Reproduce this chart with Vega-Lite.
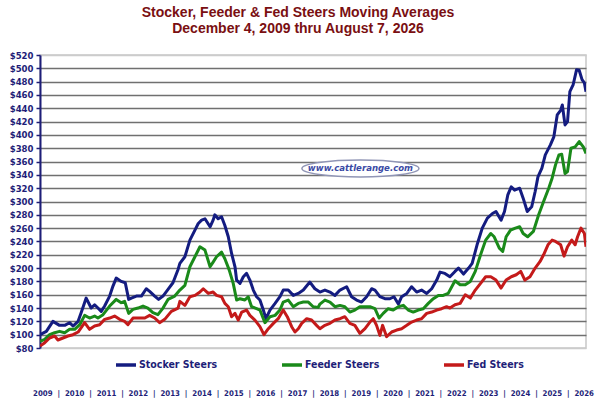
{
  "$schema": "https://vega.github.io/schema/vega-lite/v6.json",
  "description": "Stocker, feeder and fed steer moving averages, Dec 2009 to Aug 2026.",
  "width": 546,
  "height": 293,
  "autosize": {"type": "none"},
  "padding": {"left": 40, "top": 55, "right": 15, "bottom": 52},
  "background": "white",
  "config": {
    "view": {"stroke": "#c8c8c8", "strokeWidth": 1.5}
  },
  "title": {
    "text": ["Stocker, Feeder & Fed Steers Moving Averages", "December 4, 2009 thru August 7, 2026"],
    "anchor": "middle",
    "dx": -15,
    "offset": 14,
    "font": "Liberation Sans",
    "fontWeight": "bold",
    "fontSize": 14,
    "lineHeight": 16,
    "color": "#7a0f12"
  },
  "encoding": {
    "x": {
      "field": "date",
      "type": "temporal",
      "scale": {"domain": [{"year": 2009, "month": 12, "date": 4, "utc": true}, {"year": 2026, "month": 8, "date": 7, "utc": true}]},
      "axis": {
        "title": "2009 \u00a0|\u00a0 2010 \u00a0|\u00a0 2011 \u00a0|\u00a0 2012 \u00a0|\u00a0 2013 \u00a0|\u00a0 2014 \u00a0|\u00a0 2015 \u00a0|\u00a0 2016 \u00a0|\u00a0 2017 \u00a0|\u00a0 2018 \u00a0|\u00a0 2019 \u00a0|\u00a0 2020 \u00a0|\u00a0 2021 \u00a0|\u00a0 2022 \u00a0|\u00a0 2023 \u00a0|\u00a0 2024 \u00a0|\u00a0 2025 \u00a0|\u00a0 2026",
        "labels": false,
        "ticks": false,
        "domain": false,
        "grid": false,
        "titleFont": "DejaVu Sans Condensed",
        "titleFontWeight": "bold",
        "titleFontSize": 7.8,
        "titleColor": "#1e1e78",
        "titleY": 45,
        "titleBaseline": "middle"
      }
    },
    "y": {
      "field": "price",
      "type": "quantitative",
      "scale": {"domain": [80, 520], "nice": false, "zero": false},
      "axis": {
        "title": null,
        "values": [80, 100, 120, 140, 160, 180, 200, 220, 240, 260, 280, 300, 320, 340, 360, 380, 400, 420, 440, 460, 480, 500, 520],
        "labelExpr": "'$' + datum.value",
        "labelFont": "DejaVu Sans Condensed",
        "labelFontWeight": "bold",
        "labelFontSize": 9.5,
        "labelColor": "#1e1e78",
        "labelPadding": 3,
        "domainColor": "#1e1e78",
        "domainWidth": 2,
        "tickColor": "#1e1e78",
        "tickSize": 4,
        "tickWidth": 1.5,
        "gridColor": {"condition": {"test": "datum.value === 80 || datum.value === 520", "value": "#cccccc"}, "value": "#707070"},
        "gridWidth": 1.5
      }
    }
  },
  "layer": [
    {
      "data": {"values": [{"date": "2019-09-17", "price": 349.6, "site": "www.cattlerange.com"}]},
      "layer": [
        {
          "mark": {"type": "point", "shape": "M -1 0 A 1 0.145 0 1 1 1 0 A 1 0.145 0 1 1 -1 0 Z", "size": 13689, "filled": true, "fill": "white", "stroke": "#9095b5", "strokeWidth": 1.5, "opacity": 1}
        },
        {
          "mark": {"type": "text", "font": "DejaVu Sans Condensed", "fontStyle": "italic", "fontWeight": "bold", "fontSize": 9.5, "color": "#3a4aa5"},
          "encoding": {"text": {"field": "site"}}
        }
      ]
    },
    {
      "data": {"values": [
        {"series": "Stocker Steers", "date": "2009-12-04", "price": 100},
        {"series": "Stocker Steers", "date": "2010-02-13", "price": 105},
        {"series": "Stocker Steers", "date": "2010-04-27", "price": 120},
        {"series": "Stocker Steers", "date": "2010-07-10", "price": 114},
        {"series": "Stocker Steers", "date": "2010-09-05", "price": 114},
        {"series": "Stocker Steers", "date": "2010-10-30", "price": 118},
        {"series": "Stocker Steers", "date": "2010-12-07", "price": 113},
        {"series": "Stocker Steers", "date": "2011-02-02", "price": 120},
        {"series": "Stocker Steers", "date": "2011-03-08", "price": 133},
        {"series": "Stocker Steers", "date": "2011-05-03", "price": 155},
        {"series": "Stocker Steers", "date": "2011-06-28", "price": 140},
        {"series": "Stocker Steers", "date": "2011-08-05", "price": 145},
        {"series": "Stocker Steers", "date": "2011-09-11", "price": 140},
        {"series": "Stocker Steers", "date": "2011-10-18", "price": 135},
        {"series": "Stocker Steers", "date": "2011-11-25", "price": 143},
        {"series": "Stocker Steers", "date": "2012-01-20", "price": 158},
        {"series": "Stocker Steers", "date": "2012-02-26", "price": 173},
        {"series": "Stocker Steers", "date": "2012-04-02", "price": 185},
        {"series": "Stocker Steers", "date": "2012-05-28", "price": 180},
        {"series": "Stocker Steers", "date": "2012-07-12", "price": 178},
        {"series": "Stocker Steers", "date": "2012-08-19", "price": 153},
        {"series": "Stocker Steers", "date": "2012-09-18", "price": 155},
        {"series": "Stocker Steers", "date": "2012-11-13", "price": 158},
        {"series": "Stocker Steers", "date": "2013-01-08", "price": 158},
        {"series": "Stocker Steers", "date": "2013-03-03", "price": 169},
        {"series": "Stocker Steers", "date": "2013-04-10", "price": 165},
        {"series": "Stocker Steers", "date": "2013-06-05", "price": 158},
        {"series": "Stocker Steers", "date": "2013-07-19", "price": 153},
        {"series": "Stocker Steers", "date": "2013-09-06", "price": 158},
        {"series": "Stocker Steers", "date": "2013-11-01", "price": 168},
        {"series": "Stocker Steers", "date": "2013-12-26", "price": 178},
        {"series": "Stocker Steers", "date": "2014-02-21", "price": 198},
        {"series": "Stocker Steers", "date": "2014-03-13", "price": 207},
        {"series": "Stocker Steers", "date": "2014-05-08", "price": 217},
        {"series": "Stocker Steers", "date": "2014-07-03", "price": 242},
        {"series": "Stocker Steers", "date": "2014-08-28", "price": 257},
        {"series": "Stocker Steers", "date": "2014-10-04", "price": 267},
        {"series": "Stocker Steers", "date": "2014-11-11", "price": 272},
        {"series": "Stocker Steers", "date": "2014-12-18", "price": 274},
        {"series": "Stocker Steers", "date": "2015-02-13", "price": 262},
        {"series": "Stocker Steers", "date": "2015-03-19", "price": 272},
        {"series": "Stocker Steers", "date": "2015-04-07", "price": 280},
        {"series": "Stocker Steers", "date": "2015-05-14", "price": 274},
        {"series": "Stocker Steers", "date": "2015-06-21", "price": 277},
        {"series": "Stocker Steers", "date": "2015-07-28", "price": 264},
        {"series": "Stocker Steers", "date": "2015-09-04", "price": 247},
        {"series": "Stocker Steers", "date": "2015-10-11", "price": 222},
        {"series": "Stocker Steers", "date": "2015-11-18", "price": 202},
        {"series": "Stocker Steers", "date": "2015-12-06", "price": 182},
        {"series": "Stocker Steers", "date": "2016-01-13", "price": 177},
        {"series": "Stocker Steers", "date": "2016-02-19", "price": 187},
        {"series": "Stocker Steers", "date": "2016-03-26", "price": 192},
        {"series": "Stocker Steers", "date": "2016-05-02", "price": 182},
        {"series": "Stocker Steers", "date": "2016-06-09", "price": 167},
        {"series": "Stocker Steers", "date": "2016-07-16", "price": 157},
        {"series": "Stocker Steers", "date": "2016-08-22", "price": 152},
        {"series": "Stocker Steers", "date": "2016-09-29", "price": 137},
        {"series": "Stocker Steers", "date": "2016-10-28", "price": 124},
        {"series": "Stocker Steers", "date": "2016-12-12", "price": 137},
        {"series": "Stocker Steers", "date": "2017-02-07", "price": 147},
        {"series": "Stocker Steers", "date": "2017-04-02", "price": 157},
        {"series": "Stocker Steers", "date": "2017-05-09", "price": 167},
        {"series": "Stocker Steers", "date": "2017-07-04", "price": 167},
        {"series": "Stocker Steers", "date": "2017-08-29", "price": 159},
        {"series": "Stocker Steers", "date": "2017-10-24", "price": 162},
        {"series": "Stocker Steers", "date": "2017-12-19", "price": 167},
        {"series": "Stocker Steers", "date": "2018-03-02", "price": 179},
        {"series": "Stocker Steers", "date": "2018-04-27", "price": 169},
        {"series": "Stocker Steers", "date": "2018-06-22", "price": 164},
        {"series": "Stocker Steers", "date": "2018-08-17", "price": 167},
        {"series": "Stocker Steers", "date": "2018-10-12", "price": 164},
        {"series": "Stocker Steers", "date": "2018-12-07", "price": 159},
        {"series": "Stocker Steers", "date": "2019-02-01", "price": 167},
        {"series": "Stocker Steers", "date": "2019-04-16", "price": 172},
        {"series": "Stocker Steers", "date": "2019-06-10", "price": 157},
        {"series": "Stocker Steers", "date": "2019-08-05", "price": 152},
        {"series": "Stocker Steers", "date": "2019-09-30", "price": 149},
        {"series": "Stocker Steers", "date": "2019-11-25", "price": 157},
        {"series": "Stocker Steers", "date": "2020-01-20", "price": 169},
        {"series": "Stocker Steers", "date": "2020-02-26", "price": 167},
        {"series": "Stocker Steers", "date": "2020-04-21", "price": 157},
        {"series": "Stocker Steers", "date": "2020-06-16", "price": 154},
        {"series": "Stocker Steers", "date": "2020-08-11", "price": 154},
        {"series": "Stocker Steers", "date": "2020-09-25", "price": 157},
        {"series": "Stocker Steers", "date": "2020-11-13", "price": 146},
        {"series": "Stocker Steers", "date": "2020-12-20", "price": 157},
        {"series": "Stocker Steers", "date": "2021-02-15", "price": 162},
        {"series": "Stocker Steers", "date": "2021-04-10", "price": 172},
        {"series": "Stocker Steers", "date": "2021-06-05", "price": 164},
        {"series": "Stocker Steers", "date": "2021-07-30", "price": 167},
        {"series": "Stocker Steers", "date": "2021-09-25", "price": 162},
        {"series": "Stocker Steers", "date": "2021-11-20", "price": 169},
        {"series": "Stocker Steers", "date": "2022-01-15", "price": 182},
        {"series": "Stocker Steers", "date": "2022-02-21", "price": 194},
        {"series": "Stocker Steers", "date": "2022-04-16", "price": 192},
        {"series": "Stocker Steers", "date": "2022-06-11", "price": 187},
        {"series": "Stocker Steers", "date": "2022-08-07", "price": 195},
        {"series": "Stocker Steers", "date": "2022-09-14", "price": 200},
        {"series": "Stocker Steers", "date": "2022-11-10", "price": 191},
        {"series": "Stocker Steers", "date": "2023-01-06", "price": 200},
        {"series": "Stocker Steers", "date": "2023-02-14", "price": 207},
        {"series": "Stocker Steers", "date": "2023-04-10", "price": 235},
        {"series": "Stocker Steers", "date": "2023-06-07", "price": 260},
        {"series": "Stocker Steers", "date": "2023-08-03", "price": 275},
        {"series": "Stocker Steers", "date": "2023-09-29", "price": 282},
        {"series": "Stocker Steers", "date": "2023-11-07", "price": 285},
        {"series": "Stocker Steers", "date": "2024-01-03", "price": 272},
        {"series": "Stocker Steers", "date": "2024-02-10", "price": 285},
        {"series": "Stocker Steers", "date": "2024-03-18", "price": 310},
        {"series": "Stocker Steers", "date": "2024-04-25", "price": 322},
        {"series": "Stocker Steers", "date": "2024-06-02", "price": 317},
        {"series": "Stocker Steers", "date": "2024-07-28", "price": 320},
        {"series": "Stocker Steers", "date": "2024-09-05", "price": 305},
        {"series": "Stocker Steers", "date": "2024-10-21", "price": 285},
        {"series": "Stocker Steers", "date": "2024-12-09", "price": 292},
        {"series": "Stocker Steers", "date": "2025-01-17", "price": 315},
        {"series": "Stocker Steers", "date": "2025-02-17", "price": 337},
        {"series": "Stocker Steers", "date": "2025-04-02", "price": 350},
        {"series": "Stocker Steers", "date": "2025-05-10", "price": 370},
        {"series": "Stocker Steers", "date": "2025-07-06", "price": 385},
        {"series": "Stocker Steers", "date": "2025-08-13", "price": 397},
        {"series": "Stocker Steers", "date": "2025-09-20", "price": 430},
        {"series": "Stocker Steers", "date": "2025-10-28", "price": 437},
        {"series": "Stocker Steers", "date": "2025-11-16", "price": 445},
        {"series": "Stocker Steers", "date": "2025-12-16", "price": 415},
        {"series": "Stocker Steers", "date": "2026-01-13", "price": 420},
        {"series": "Stocker Steers", "date": "2026-02-08", "price": 465},
        {"series": "Stocker Steers", "date": "2026-03-16", "price": 475},
        {"series": "Stocker Steers", "date": "2026-04-24", "price": 498},
        {"series": "Stocker Steers", "date": "2026-05-23", "price": 497},
        {"series": "Stocker Steers", "date": "2026-06-24", "price": 483},
        {"series": "Stocker Steers", "date": "2026-07-20", "price": 478},
        {"series": "Stocker Steers", "date": "2026-08-07", "price": 465},
        {"series": "Feeder Steers", "date": "2009-12-04", "price": 90},
        {"series": "Feeder Steers", "date": "2010-01-26", "price": 93},
        {"series": "Feeder Steers", "date": "2010-03-21", "price": 100},
        {"series": "Feeder Steers", "date": "2010-05-16", "price": 103},
        {"series": "Feeder Steers", "date": "2010-07-10", "price": 105},
        {"series": "Feeder Steers", "date": "2010-09-05", "price": 103},
        {"series": "Feeder Steers", "date": "2010-10-30", "price": 108},
        {"series": "Feeder Steers", "date": "2010-12-26", "price": 108},
        {"series": "Feeder Steers", "date": "2011-02-20", "price": 115},
        {"series": "Feeder Steers", "date": "2011-04-16", "price": 129},
        {"series": "Feeder Steers", "date": "2011-06-10", "price": 125},
        {"series": "Feeder Steers", "date": "2011-08-05", "price": 128},
        {"series": "Feeder Steers", "date": "2011-09-11", "price": 125},
        {"series": "Feeder Steers", "date": "2011-11-07", "price": 130},
        {"series": "Feeder Steers", "date": "2012-01-20", "price": 143},
        {"series": "Feeder Steers", "date": "2012-04-02", "price": 153},
        {"series": "Feeder Steers", "date": "2012-05-28", "price": 148},
        {"series": "Feeder Steers", "date": "2012-07-05", "price": 150},
        {"series": "Feeder Steers", "date": "2012-08-19", "price": 132},
        {"series": "Feeder Steers", "date": "2012-10-06", "price": 138},
        {"series": "Feeder Steers", "date": "2012-12-01", "price": 140},
        {"series": "Feeder Steers", "date": "2013-01-26", "price": 143},
        {"series": "Feeder Steers", "date": "2013-03-21", "price": 140},
        {"series": "Feeder Steers", "date": "2013-05-16", "price": 133},
        {"series": "Feeder Steers", "date": "2013-07-11", "price": 130},
        {"series": "Feeder Steers", "date": "2013-09-06", "price": 140},
        {"series": "Feeder Steers", "date": "2013-11-01", "price": 153},
        {"series": "Feeder Steers", "date": "2014-01-15", "price": 158},
        {"series": "Feeder Steers", "date": "2014-03-13", "price": 167},
        {"series": "Feeder Steers", "date": "2014-05-08", "price": 174},
        {"series": "Feeder Steers", "date": "2014-07-03", "price": 202},
        {"series": "Feeder Steers", "date": "2014-08-28", "price": 217},
        {"series": "Feeder Steers", "date": "2014-10-23", "price": 232},
        {"series": "Feeder Steers", "date": "2014-12-18", "price": 227},
        {"series": "Feeder Steers", "date": "2015-02-13", "price": 202},
        {"series": "Feeder Steers", "date": "2015-03-19", "price": 209},
        {"series": "Feeder Steers", "date": "2015-04-26", "price": 217},
        {"series": "Feeder Steers", "date": "2015-06-21", "price": 224},
        {"series": "Feeder Steers", "date": "2015-07-28", "price": 214},
        {"series": "Feeder Steers", "date": "2015-09-15", "price": 197},
        {"series": "Feeder Steers", "date": "2015-10-29", "price": 177},
        {"series": "Feeder Steers", "date": "2015-12-06", "price": 152},
        {"series": "Feeder Steers", "date": "2016-01-13", "price": 154},
        {"series": "Feeder Steers", "date": "2016-03-07", "price": 152},
        {"series": "Feeder Steers", "date": "2016-04-13", "price": 157},
        {"series": "Feeder Steers", "date": "2016-05-21", "price": 142},
        {"series": "Feeder Steers", "date": "2016-07-16", "price": 139},
        {"series": "Feeder Steers", "date": "2016-08-22", "price": 137},
        {"series": "Feeder Steers", "date": "2016-10-17", "price": 118},
        {"series": "Feeder Steers", "date": "2016-12-12", "price": 127},
        {"series": "Feeder Steers", "date": "2017-02-07", "price": 129},
        {"series": "Feeder Steers", "date": "2017-04-02", "price": 137},
        {"series": "Feeder Steers", "date": "2017-05-09", "price": 149},
        {"series": "Feeder Steers", "date": "2017-07-04", "price": 152},
        {"series": "Feeder Steers", "date": "2017-08-29", "price": 142},
        {"series": "Feeder Steers", "date": "2017-10-24", "price": 147},
        {"series": "Feeder Steers", "date": "2017-12-19", "price": 149},
        {"series": "Feeder Steers", "date": "2018-02-13", "price": 149},
        {"series": "Feeder Steers", "date": "2018-04-08", "price": 142},
        {"series": "Feeder Steers", "date": "2018-06-03", "price": 141},
        {"series": "Feeder Steers", "date": "2018-06-22", "price": 146},
        {"series": "Feeder Steers", "date": "2018-08-17", "price": 152},
        {"series": "Feeder Steers", "date": "2018-10-12", "price": 149},
        {"series": "Feeder Steers", "date": "2018-12-07", "price": 142},
        {"series": "Feeder Steers", "date": "2019-02-01", "price": 144},
        {"series": "Feeder Steers", "date": "2019-03-27", "price": 142},
        {"series": "Feeder Steers", "date": "2019-05-22", "price": 134},
        {"series": "Feeder Steers", "date": "2019-07-17", "price": 137},
        {"series": "Feeder Steers", "date": "2019-09-11", "price": 142},
        {"series": "Feeder Steers", "date": "2019-11-07", "price": 142},
        {"series": "Feeder Steers", "date": "2020-01-01", "price": 142},
        {"series": "Feeder Steers", "date": "2020-02-26", "price": 139},
        {"series": "Feeder Steers", "date": "2020-04-13", "price": 125},
        {"series": "Feeder Steers", "date": "2020-05-28", "price": 132},
        {"series": "Feeder Steers", "date": "2020-07-23", "price": 139},
        {"series": "Feeder Steers", "date": "2020-09-17", "price": 137},
        {"series": "Feeder Steers", "date": "2020-11-13", "price": 142},
        {"series": "Feeder Steers", "date": "2021-01-08", "price": 144},
        {"series": "Feeder Steers", "date": "2021-03-03", "price": 137},
        {"series": "Feeder Steers", "date": "2021-04-28", "price": 134},
        {"series": "Feeder Steers", "date": "2021-06-23", "price": 137},
        {"series": "Feeder Steers", "date": "2021-08-18", "price": 139},
        {"series": "Feeder Steers", "date": "2021-10-13", "price": 147},
        {"series": "Feeder Steers", "date": "2021-12-08", "price": 154},
        {"series": "Feeder Steers", "date": "2022-02-02", "price": 159},
        {"series": "Feeder Steers", "date": "2022-03-28", "price": 159},
        {"series": "Feeder Steers", "date": "2022-05-23", "price": 162},
        {"series": "Feeder Steers", "date": "2022-08-07", "price": 181},
        {"series": "Feeder Steers", "date": "2022-10-03", "price": 175},
        {"series": "Feeder Steers", "date": "2022-11-29", "price": 175},
        {"series": "Feeder Steers", "date": "2023-01-25", "price": 180},
        {"series": "Feeder Steers", "date": "2023-03-21", "price": 195},
        {"series": "Feeder Steers", "date": "2023-05-19", "price": 220},
        {"series": "Feeder Steers", "date": "2023-07-15", "price": 242},
        {"series": "Feeder Steers", "date": "2023-09-10", "price": 252},
        {"series": "Feeder Steers", "date": "2023-10-18", "price": 247},
        {"series": "Feeder Steers", "date": "2023-12-14", "price": 230},
        {"series": "Feeder Steers", "date": "2024-01-21", "price": 225},
        {"series": "Feeder Steers", "date": "2024-02-28", "price": 247},
        {"series": "Feeder Steers", "date": "2024-04-17", "price": 257},
        {"series": "Feeder Steers", "date": "2024-06-10", "price": 260},
        {"series": "Feeder Steers", "date": "2024-07-28", "price": 262},
        {"series": "Feeder Steers", "date": "2024-09-05", "price": 252},
        {"series": "Feeder Steers", "date": "2024-10-25", "price": 247},
        {"series": "Feeder Steers", "date": "2024-12-28", "price": 255},
        {"series": "Feeder Steers", "date": "2025-02-25", "price": 280},
        {"series": "Feeder Steers", "date": "2025-04-21", "price": 300},
        {"series": "Feeder Steers", "date": "2025-06-17", "price": 320},
        {"series": "Feeder Steers", "date": "2025-07-25", "price": 335},
        {"series": "Feeder Steers", "date": "2025-09-01", "price": 355},
        {"series": "Feeder Steers", "date": "2025-10-09", "price": 370},
        {"series": "Feeder Steers", "date": "2025-11-09", "price": 371},
        {"series": "Feeder Steers", "date": "2025-12-16", "price": 342},
        {"series": "Feeder Steers", "date": "2026-01-13", "price": 345},
        {"series": "Feeder Steers", "date": "2026-02-20", "price": 380},
        {"series": "Feeder Steers", "date": "2026-04-08", "price": 382},
        {"series": "Feeder Steers", "date": "2026-05-23", "price": 390},
        {"series": "Feeder Steers", "date": "2026-07-08", "price": 382},
        {"series": "Feeder Steers", "date": "2026-08-07", "price": 372},
        {"series": "Fed Steers", "date": "2009-12-04", "price": 83},
        {"series": "Fed Steers", "date": "2010-01-26", "price": 88},
        {"series": "Fed Steers", "date": "2010-03-21", "price": 95},
        {"series": "Fed Steers", "date": "2010-05-16", "price": 98},
        {"series": "Fed Steers", "date": "2010-06-22", "price": 92},
        {"series": "Fed Steers", "date": "2010-08-17", "price": 95},
        {"series": "Fed Steers", "date": "2010-10-12", "price": 98},
        {"series": "Fed Steers", "date": "2010-12-07", "price": 100},
        {"series": "Fed Steers", "date": "2011-02-02", "price": 104},
        {"series": "Fed Steers", "date": "2011-04-16", "price": 118},
        {"series": "Fed Steers", "date": "2011-06-10", "price": 108},
        {"series": "Fed Steers", "date": "2011-08-05", "price": 113},
        {"series": "Fed Steers", "date": "2011-09-30", "price": 115},
        {"series": "Fed Steers", "date": "2011-11-25", "price": 123},
        {"series": "Fed Steers", "date": "2012-01-20", "price": 125},
        {"series": "Fed Steers", "date": "2012-03-15", "price": 128},
        {"series": "Fed Steers", "date": "2012-05-10", "price": 123},
        {"series": "Fed Steers", "date": "2012-07-05", "price": 120},
        {"series": "Fed Steers", "date": "2012-08-11", "price": 115},
        {"series": "Fed Steers", "date": "2012-10-06", "price": 125},
        {"series": "Fed Steers", "date": "2012-12-01", "price": 125},
        {"series": "Fed Steers", "date": "2013-02-15", "price": 125},
        {"series": "Fed Steers", "date": "2013-04-10", "price": 129},
        {"series": "Fed Steers", "date": "2013-06-05", "price": 125},
        {"series": "Fed Steers", "date": "2013-07-30", "price": 118},
        {"series": "Fed Steers", "date": "2013-09-25", "price": 123},
        {"series": "Fed Steers", "date": "2013-12-08", "price": 135},
        {"series": "Fed Steers", "date": "2014-02-21", "price": 140},
        {"series": "Fed Steers", "date": "2014-03-13", "price": 150},
        {"series": "Fed Steers", "date": "2014-05-08", "price": 144},
        {"series": "Fed Steers", "date": "2014-07-03", "price": 157},
        {"series": "Fed Steers", "date": "2014-08-28", "price": 159},
        {"series": "Fed Steers", "date": "2014-10-23", "price": 164},
        {"series": "Fed Steers", "date": "2014-11-29", "price": 169},
        {"series": "Fed Steers", "date": "2015-01-24", "price": 162},
        {"series": "Fed Steers", "date": "2015-03-19", "price": 164},
        {"series": "Fed Steers", "date": "2015-04-26", "price": 159},
        {"series": "Fed Steers", "date": "2015-06-21", "price": 157},
        {"series": "Fed Steers", "date": "2015-07-28", "price": 147},
        {"series": "Fed Steers", "date": "2015-09-04", "price": 142},
        {"series": "Fed Steers", "date": "2015-10-11", "price": 127},
        {"series": "Fed Steers", "date": "2015-11-18", "price": 132},
        {"series": "Fed Steers", "date": "2015-12-24", "price": 122},
        {"series": "Fed Steers", "date": "2016-02-01", "price": 134},
        {"series": "Fed Steers", "date": "2016-03-26", "price": 137},
        {"series": "Fed Steers", "date": "2016-05-02", "price": 129},
        {"series": "Fed Steers", "date": "2016-06-27", "price": 122},
        {"series": "Fed Steers", "date": "2016-08-22", "price": 112},
        {"series": "Fed Steers", "date": "2016-10-06", "price": 100},
        {"series": "Fed Steers", "date": "2016-11-24", "price": 109},
        {"series": "Fed Steers", "date": "2017-01-19", "price": 117},
        {"series": "Fed Steers", "date": "2017-03-14", "price": 124},
        {"series": "Fed Steers", "date": "2017-05-09", "price": 137},
        {"series": "Fed Steers", "date": "2017-06-23", "price": 127},
        {"series": "Fed Steers", "date": "2017-08-11", "price": 112},
        {"series": "Fed Steers", "date": "2017-09-17", "price": 104},
        {"series": "Fed Steers", "date": "2017-10-24", "price": 109},
        {"series": "Fed Steers", "date": "2017-12-01", "price": 117},
        {"series": "Fed Steers", "date": "2018-01-26", "price": 124},
        {"series": "Fed Steers", "date": "2018-03-21", "price": 122},
        {"series": "Fed Steers", "date": "2018-05-16", "price": 114},
        {"series": "Fed Steers", "date": "2018-06-22", "price": 109},
        {"series": "Fed Steers", "date": "2018-08-17", "price": 114},
        {"series": "Fed Steers", "date": "2018-10-12", "price": 117},
        {"series": "Fed Steers", "date": "2018-12-07", "price": 122},
        {"series": "Fed Steers", "date": "2019-02-01", "price": 124},
        {"series": "Fed Steers", "date": "2019-03-27", "price": 127},
        {"series": "Fed Steers", "date": "2019-05-22", "price": 117},
        {"series": "Fed Steers", "date": "2019-07-17", "price": 114},
        {"series": "Fed Steers", "date": "2019-09-11", "price": 102},
        {"series": "Fed Steers", "date": "2019-11-07", "price": 109},
        {"series": "Fed Steers", "date": "2020-01-01", "price": 119},
        {"series": "Fed Steers", "date": "2020-02-07", "price": 124},
        {"series": "Fed Steers", "date": "2020-03-15", "price": 114},
        {"series": "Fed Steers", "date": "2020-04-21", "price": 99},
        {"series": "Fed Steers", "date": "2020-05-21", "price": 114},
        {"series": "Fed Steers", "date": "2020-07-05", "price": 97},
        {"series": "Fed Steers", "date": "2020-08-30", "price": 104},
        {"series": "Fed Steers", "date": "2020-10-25", "price": 107},
        {"series": "Fed Steers", "date": "2020-12-20", "price": 109},
        {"series": "Fed Steers", "date": "2021-02-15", "price": 114},
        {"series": "Fed Steers", "date": "2021-04-10", "price": 119},
        {"series": "Fed Steers", "date": "2021-06-05", "price": 122},
        {"series": "Fed Steers", "date": "2021-07-30", "price": 124},
        {"series": "Fed Steers", "date": "2021-09-25", "price": 132},
        {"series": "Fed Steers", "date": "2021-11-20", "price": 134},
        {"series": "Fed Steers", "date": "2022-01-15", "price": 137},
        {"series": "Fed Steers", "date": "2022-03-10", "price": 139},
        {"series": "Fed Steers", "date": "2022-05-05", "price": 142},
        {"series": "Fed Steers", "date": "2022-06-11", "price": 140},
        {"series": "Fed Steers", "date": "2022-08-07", "price": 145},
        {"series": "Fed Steers", "date": "2022-10-03", "price": 147},
        {"series": "Fed Steers", "date": "2022-11-29", "price": 160},
        {"series": "Fed Steers", "date": "2023-01-25", "price": 155},
        {"series": "Fed Steers", "date": "2023-03-21", "price": 167},
        {"series": "Fed Steers", "date": "2023-05-19", "price": 177},
        {"series": "Fed Steers", "date": "2023-07-15", "price": 187},
        {"series": "Fed Steers", "date": "2023-09-10", "price": 187},
        {"series": "Fed Steers", "date": "2023-11-07", "price": 182},
        {"series": "Fed Steers", "date": "2024-01-03", "price": 170},
        {"series": "Fed Steers", "date": "2024-02-28", "price": 182},
        {"series": "Fed Steers", "date": "2024-04-25", "price": 187},
        {"series": "Fed Steers", "date": "2024-06-20", "price": 190},
        {"series": "Fed Steers", "date": "2024-08-09", "price": 195},
        {"series": "Fed Steers", "date": "2024-09-24", "price": 182},
        {"series": "Fed Steers", "date": "2024-11-20", "price": 187},
        {"series": "Fed Steers", "date": "2025-01-17", "price": 200},
        {"series": "Fed Steers", "date": "2025-03-13", "price": 210},
        {"series": "Fed Steers", "date": "2025-04-21", "price": 220},
        {"series": "Fed Steers", "date": "2025-06-09", "price": 235},
        {"series": "Fed Steers", "date": "2025-07-25", "price": 242},
        {"series": "Fed Steers", "date": "2025-09-01", "price": 240},
        {"series": "Fed Steers", "date": "2025-10-28", "price": 235},
        {"series": "Fed Steers", "date": "2025-12-05", "price": 218},
        {"series": "Fed Steers", "date": "2026-01-13", "price": 232},
        {"series": "Fed Steers", "date": "2026-03-01", "price": 242},
        {"series": "Fed Steers", "date": "2026-04-08", "price": 235},
        {"series": "Fed Steers", "date": "2026-05-05", "price": 247},
        {"series": "Fed Steers", "date": "2026-06-12", "price": 260},
        {"series": "Fed Steers", "date": "2026-07-20", "price": 252},
        {"series": "Fed Steers", "date": "2026-08-07", "price": 232}
      ]},
      "mark": {"type": "line", "strokeWidth": 3, "strokeJoin": "round", "clip": true},
      "encoding": {
        "color": {
          "field": "series",
          "type": "nominal",
          "scale": {"domain": ["Stocker Steers", "Feeder Steers", "Fed Steers"], "range": ["#141c80", "#1a8a1a", "#c41a1a"]},
          "legend": {
            "title": null,
            "orient": "none",
            "legendX": 74,
            "legendY": 298,
            "direction": "horizontal",
            "symbolType": "stroke",
            "symbolSize": 400,
            "symbolStrokeWidth": 3.5,
            "labelFont": "DejaVu Sans Condensed",
            "labelFontWeight": "bold",
            "labelFontSize": 10.5,
            "labelColor": "#1e1e78",
            "labelOffset": 1,
            "columnPadding": 57
          }
        }
      }
    }
  ]
}
